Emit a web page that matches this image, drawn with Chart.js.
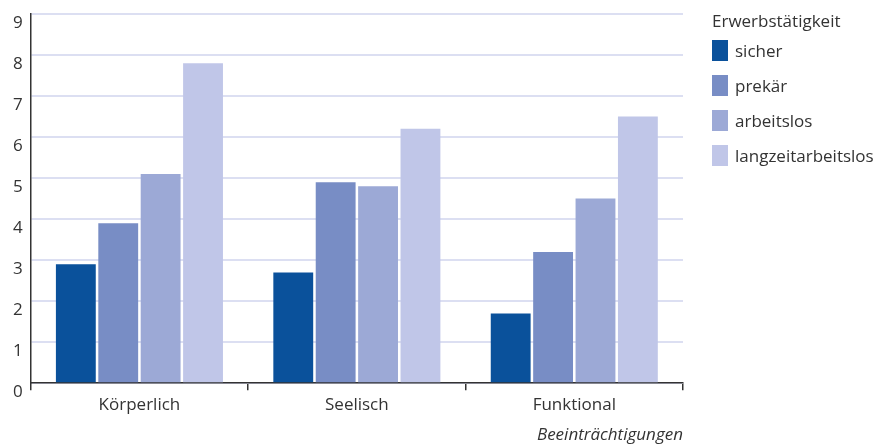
<!DOCTYPE html>
<html lang="de">
<head>
<meta charset="utf-8">
<title>Beeinträchtigungen nach Erwerbstätigkeit</title>
<script src="https://cdn.jsdelivr.net/npm/chart.js@4.4.1/dist/chart.umd.min.js"></script>
<style>
    body { margin: 0; background: #fff; }
    #wrap { position: relative; width: 881px; height: 445px; }
    #legend { position: absolute; left: 712px; top: 10px; font-family: "Open Sans", sans-serif; font-size: 17px; color: #333; }
    #legend .title { height: 22px; line-height: 22px; margin-bottom: 8px; }
    #legend .item { height: 21px; margin-bottom: 14px; display: flex; align-items: center; }
    #legend .box { width: 16px; height: 21px; margin-right: 7px; }
</style>
</head>
<body>
<div id="wrap">
    <canvas id="chart" width="881" height="445"></canvas>
    <div id="legend"></div>
</div>
<script>
// data
const categories = ["Körperlich", "Seelisch", "Funktional"];
const seriesNames = ["sicher", "prekär", "arbeitslos", "langzeitarbeitslos"];
const sicher = [2.9, 2.7, 1.7];
const prekaer = [3.9, 4.9, 3.2];
const arbeitslos = [5.1, 4.8, 4.5];
const langzeitarbeitslos = [7.8, 6.2, 6.5];
const yTicks = [0, 1, 2, 3, 4, 5, 6, 7, 8, 9];

const colors = ["#0a519b", "#788dc5", "#9ca9d6", "#c0c6e8"];
const seriesValues = [sicher, prekaer, arbeitslos, langzeitarbeitslos];
const fontFamily = '"Open Sans", sans-serif';

// legend (html)
const legendEl = document.getElementById("legend");
let html = '<div class="title">Erwerbstätigkeit</div>';
seriesNames.forEach((name, i) => {
    html += '<div class="item"><span class="box" style="background:' + colors[i] + '"></span>' + name + '</div>';
});
legendEl.innerHTML = html;

const ctx = document.getElementById("chart").getContext("2d");
const chart = new Chart(ctx, {
    type: "bar",
    data: {
        labels: categories,
        datasets: seriesNames.map((name, i) => ({
            label: name,
            data: seriesValues[i],
            backgroundColor: colors[i],
            borderWidth: 0,
            barPercentage: 0.94,
            categoryPercentage: 0.78,
        })),
    },
    options: {
        responsive: false,
        animation: false,
        layout: {
            padding: { left: 5, right: 198, top: 0, bottom: 0 },
        },
        plugins: {
            legend: { display: false },
            tooltip: { enabled: false },
        },
        scales: {
            x: {
                offset: true,
                grid: {
                    offset: true,
                    drawOnChartArea: false,
                    drawTicks: true,
                    tickLength: 7,
                    color: "#333",
                    lineWidth: 1.5,
                },
                border: { color: "#333", width: 1.5 },
                ticks: {
                    color: "#333",
                    padding: 5,
                    font: { family: fontFamily, size: 17 },
                },
                title: {
                    display: true,
                    text: "Beeinträchtigungen",
                    align: "end",
                    color: "#333",
                    padding: { top: 4, bottom: 0 },
                    font: { family: fontFamily, size: 17, style: "italic" },
                },
            },
            y: {
                min: 0,
                max: 9,
                afterBuildTicks: (axis) => {
                    axis.ticks = yTicks.map((v) => ({ value: v }));
                },
                afterFit: (axis) => {
                    axis.paddingTop = 14;
                },
                grid: {
                    color: "#dcdff2",
                    lineWidth: 2,
                    drawTicks: false,
                },
                border: { color: "#333", width: 1.5 },
                ticks: {
                    color: "#333",
                    padding: 8,
                    labelOffset: 9,
                    font: { family: fontFamily, size: 17 },
                },
            },
        },
    },
});
</script>
</body>
</html>
